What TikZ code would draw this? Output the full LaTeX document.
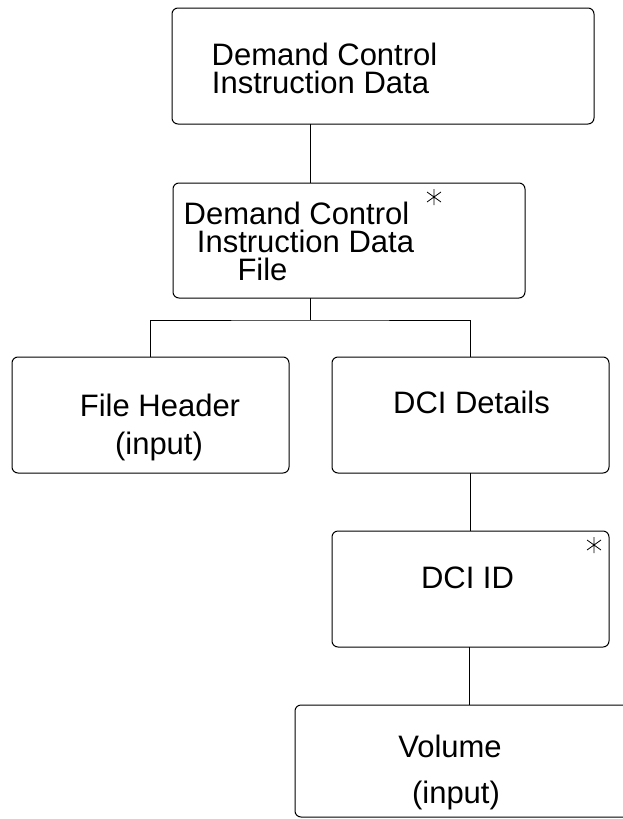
\documentclass[tikz,border=0pt]{standalone}
\usepackage{fontspec}
\setmainfont{Liberation Sans}
\begin{document}
\begin{tikzpicture}[x=1pt,y=-1pt,
  boxstyle/.style={draw=black, line width=1pt, rounded corners=6pt, inner sep=0pt, outer sep=0pt},
  txt/.style={anchor=base, inner sep=0pt, font=\fontsize{31}{31}\selectfont},
  link/.style={draw=black, line width=1pt},
  jstar/.pic={\draw[line width=0.8pt] (0,-8) -- (0,8) (-7,-5) -- (7,5) (-7,5) -- (7,-5);}
]
\useasboundingbox (0,0) rectangle (623,819);
\clip (0,0) rectangle (623,819);

% boxes
\node[boxstyle, minimum width=422pt, minimum height=116pt] (b1) at (383,66) {};
\node[boxstyle, minimum width=352pt, minimum height=115pt] (b2) at (349,240.5) {};
\node[boxstyle, minimum width=277pt, minimum height=116pt] (hdr) at (150.5,415) {};
\node[boxstyle, minimum width=277pt, minimum height=116pt] (det) at (470.5,415) {};
\node[boxstyle, minimum width=277pt, minimum height=116pt] (id) at (470.5,589) {};
\node[boxstyle, minimum width=350pt, minimum height=112pt] (vol) at (470,761) {};

% texts
\node[txt] (t1a) at (324.5,65) {Demand Control};
\node[txt] (t1b) at (320.5,93) {Instruction Data};
\node[txt] (t2a) at (296.5,224) {Demand Control};
\node[txt] (t2b) at (305.5,252) {Instruction Data};
\node[txt] (t2c) at (262.5,280) {File};
\node[txt] (t3a) at (160,416) {File Header};
\node[txt] (t3b) at (159,454) {(input)};
\node[txt] (t4a) at (471.5,413) {DCI Details};
\node[txt] (t5a) at (467.5,588) {DCI ID};
\node[txt] (t6a) at (450,757) {Volume};
\node[txt] (t6b) at (456,803) {(input)};

% iteration stars
\pic at (434,197) {jstar};
\pic at (594,545) {jstar};

% connectors
\coordinate (j1) at (310,320);
\draw[link] (b1.south -| j1) -- (b2.north -| j1);
\draw[link] (b2.south -| j1) -- (j1);
\draw[link] (hdr.north) |- (j1) -| (det.north);
\draw[link] (det.south) -- (id.north);
\coordinate (j2) at (469,650);
\draw[link] (id.south -| j2) -- (vol.north -| j2);
\end{tikzpicture}
\end{document}
